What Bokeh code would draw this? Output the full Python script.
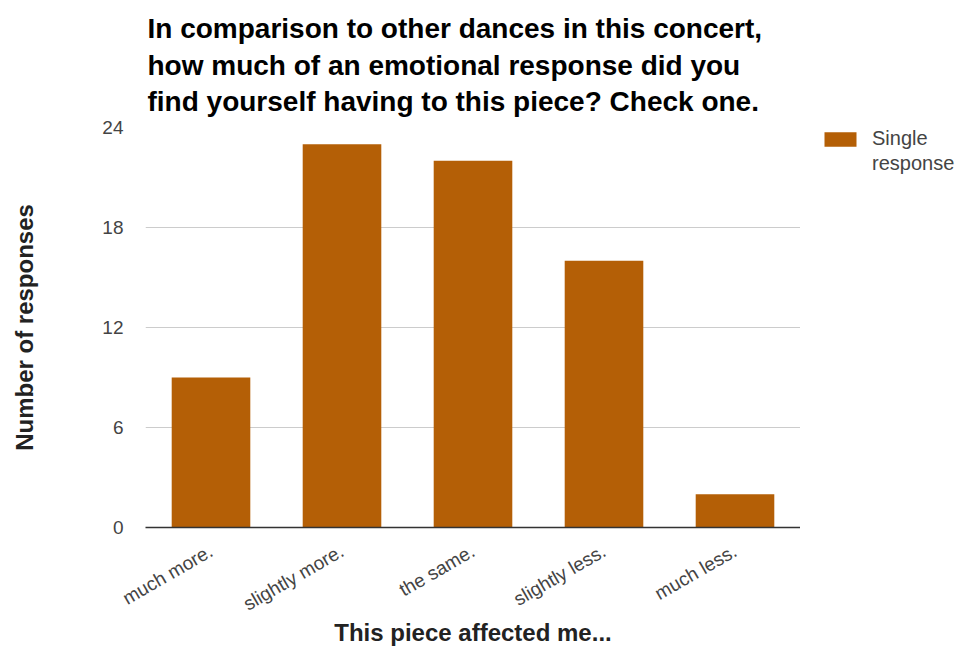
from bokeh.plotting import figure
from bokeh.layouts import row
from bokeh.models import (FactorRange, Range1d, FixedTicker, Title, Legend, LegendItem,
                          ColumnDataSource)
from bokeh.embed import file_html
from bokeh.resources import INLINE
import math

categories = ["much more.", "slightly more.", "the same.", "slightly less.", "much less."]
responses = [9, 23, 22, 16, 2]
y_ticks = [0, 6, 12, 18, 24]
title_lines = ["In comparison to other dances in this concert,",
               "how much of an emotional response did you",
               "find yourself having to this piece? Check one."]
series_name = "Single\nresponse"

FONT = "Liberation Sans"
BAR = "#b45f06"

src = ColumnDataSource(dict(cat=categories, val=responses))

p = figure(width=800, height=648, output_backend="svg", toolbar_location=None,
           x_range=FactorRange(*categories), y_range=Range1d(0, 24),
           min_border_left=145, min_border_right=0, min_border_top=125,
           min_border_bottom=121, outline_line_color=None, title=None)

r = p.vbar(x="cat", top="val", width=0.6, source=src, color=BAR, line_color=None)

p.add_layout(Title(text="\n".join(title_lines), align="left", text_font=FONT,
                   text_font_size="28px", text_font_style="bold", text_color="#000000",
                   text_line_height=1.19, standoff=20, offset=2), "above")

p.xgrid.grid_line_color = None
p.ygrid.grid_line_color = "#cccccc"
p.ygrid.ticker = FixedTicker(ticks=y_ticks)

ya = p.yaxis[0]
ya.ticker = FixedTicker(ticks=y_ticks)
ya.axis_line_color = None
ya.major_tick_line_color = None
ya.minor_tick_line_color = None
ya.major_label_standoff = 16
ya.major_label_text_font = FONT
ya.major_label_text_font_size = "19px"
ya.major_label_text_color = "#444444"
ya.axis_label = "Number of responses"
ya.axis_label_text_font = FONT
ya.axis_label_text_font_size = "24px"
ya.axis_label_text_font_style = "bold"
ya.axis_label_text_color = "#222222"
ya.axis_label_standoff = 61

xa = p.xaxis[0]
xa.axis_line_color = "#333333"
xa.axis_line_width = 1.5
xa.major_tick_line_color = None
xa.minor_tick_line_color = None
xa.major_label_orientation = math.pi / 6
xa.major_label_standoff = 16
xa.major_label_text_font = FONT
xa.major_label_text_font_size = "19px"
xa.major_label_text_color = "#444444"
xa.axis_label = "This piece affected me..."
xa.axis_label_text_font = FONT
xa.axis_label_text_font_size = "24px"
xa.axis_label_text_font_style = "bold"
xa.axis_label_text_color = "#222222"
xa.axis_label_standoff = -8

# legend panel: same series as zero-size bars far out of view; only swatch shows
q = figure(width=162, height=648, output_backend="svg", toolbar_location=None,
           x_range=FactorRange(*categories), y_range=Range1d(100, 101),
           min_border_left=20, min_border_top=126, min_border_right=0, min_border_bottom=0,
           x_axis_location=None, y_axis_location=None, outline_line_color=None)
q.xgrid.grid_line_color = None
q.ygrid.grid_line_color = None
r2 = q.vbar(x="cat", top="val", bottom="val", width=0, source=src, color=BAR,
            line_color=None)
r3 = q.vbar(x="cat", top="val", bottom="val", width=0, source=src, fill_alpha=0,
            line_alpha=0)

name_lines = series_name.split("\n")
items = [LegendItem(label=name_lines[0], renderers=[r2]),
         LegendItem(label=name_lines[1], renderers=[r3])]
legend = Legend(items=items, location="top_left", margin=0, padding=0,
                border_line_color=None, background_fill_alpha=0, spacing=2,
                glyph_width=40, glyph_height=18, label_height=20,
                label_standoff=12, label_text_font=FONT, label_text_font_size="20px",
                label_text_color="#444444")
q.add_layout(legend, "center")

layout = row(p, q, spacing=0)
open("out.html", "w").write(file_html(layout, INLINE))
